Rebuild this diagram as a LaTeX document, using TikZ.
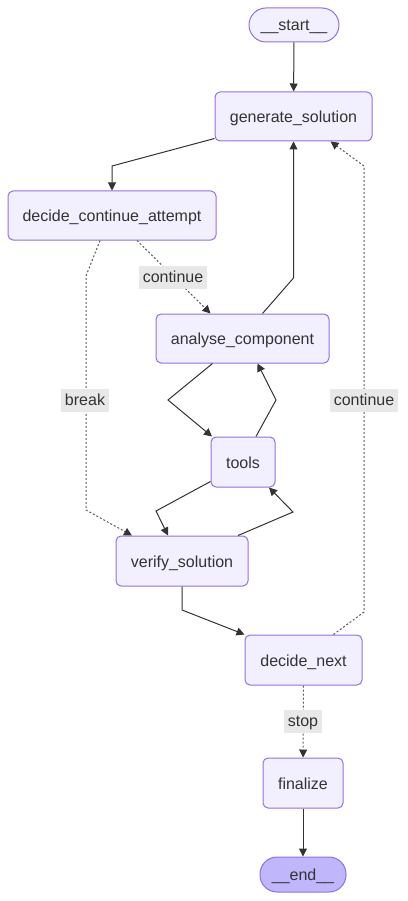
\documentclass[tikz,border=0pt]{standalone}
\usepackage{fontspec}
\setmainfont{Liberation Sans}
\usetikzlibrary{arrows.meta,calc}
\definecolor{nodefill}{HTML}{F2F0FF}
\definecolor{nodeline}{HTML}{9370DB}
\definecolor{endfill}{HTML}{BFB6FC}
\definecolor{txt}{HTML}{333333}
\definecolor{lblbg}{HTML}{E8E8E8}
\tikzset{
  box/.style={draw=nodeline, fill=nodefill, line width=1pt, rounded corners=5pt,
    inner sep=0pt, text=txt, text height=12.5pt, text depth=0.5pt,
    font=\fontsize{16}{19}\selectfont},
  term/.style={box, rounded corners=17pt},
  arr/.style={draw=txt, line width=1pt, -{Triangle[length=8pt,width=8pt]}},
  dot/.style={draw=txt!80, line width=1pt, dash pattern=on 2pt off 2pt,
    -{Triangle[length=8pt,width=8pt,color=txt]}},
  lbl/.style={fill=lblbg, text=txt, inner xsep=4pt, inner ysep=4.5pt,
    text height=12pt, text depth=2pt, font=\fontsize{16}{19}\selectfont}
}
\begin{document}
\begin{tikzpicture}[x=1pt,y=-1pt]
\useasboundingbox (0,0) rectangle (407,901);
% nodes
\node[term, minimum width=90pt, minimum height=34pt] (start) at (294,25) {\_\_start\_\_};
\node[box, minimum width=157pt, minimum height=49pt] (gen) at (293.5,116.5) {generate\_solution};
\node[box, minimum width=208pt, minimum height=49pt] (dca) at (112,215.5) {decide\_continue\_attempt};
\node[box, minimum width=173pt, minimum height=49pt] (ana) at (242.5,338.5) {analyse\_component};
\node[box, minimum width=64pt, minimum height=50pt] (tools) at (243,462) {tools};
\node[box, minimum width=132pt, minimum height=50pt] (ver) at (182,561) {verify\_solution};
\node[box, minimum width=117pt, minimum height=50pt] (dn) at (303.5,660) {decide\_next};
\node[box, minimum width=80pt, minimum height=50pt] (fin) at (303,783) {finalize};
\node[term, fill=endfill, minimum width=86pt, minimum height=35pt] (end) at (303,874.5) {\_\_end\_\_};
% bend coordinates
\coordinate (b1) at (112,166);
\coordinate (b2a) at (86,276);
\coordinate (b2b) at (86,510);
\coordinate (b3) at (293.5,278);
\coordinate (b4) at (168,400);
\coordinate (b5) at (276,400);
\coordinate (b6) at (156,511);
\coordinate (b7) at (293,512);
\coordinate (b8) at (182,610);
\coordinate (b9a) at (364,612);
\coordinate (b9b) at (364,166);
% edges
\draw[arr] (start) -- (gen);
\draw[arr] ([yshift=3pt]gen.south west) -- (b1) -- (dca.north);
\draw[dot] ([xshift=25pt]dca.south) -- ([xshift=-32pt]ana.north);
\draw[dot] ([xshift=-12pt]dca.south) -- (b2a) -- (b2b) -- ([xshift=-50pt]ver.north);
\draw[arr] ([xshift=20pt]ana.north) -- (b3) -- (gen.south);
\draw[arr] ([xshift=-30pt]ana.south) -- (b4) -- ([xshift=-31pt]tools.north);
\draw[arr] ([xshift=13pt]tools.north) -- (b5) -- ([xshift=15pt]ana.south);
\draw[arr] ([yshift=6pt]tools.south west) -- (b6) -- ([xshift=-14pt]ver.north);
\draw[arr] ([xshift=56pt]ver.north) -- (b7) -- ([xshift=26pt]tools.south);
\draw[arr] (ver.south) -- (b8) -- (dn.north west);
\draw[dot] ([xshift=30pt]dn.north) -- (b9a) -- (b9b) -- ([xshift=37pt]gen.south);
\draw[dot] (dn) -- (fin);
\draw[arr] (fin) -- (end);
% labels
\node[lbl] (l1) at (173,277.5) {continue};
\node[lbl] (l2) at (85,400) {break};
\node[lbl] (l3) at (364,400.5) {continue};
\node[lbl] (l4) at (303,721) {stop};
\end{tikzpicture}
\end{document}
